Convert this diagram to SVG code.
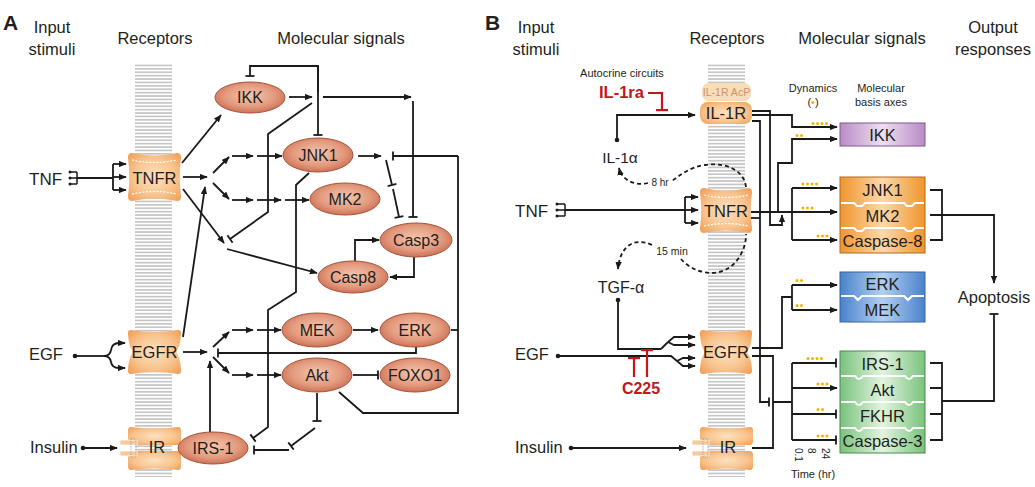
<svg xmlns="http://www.w3.org/2000/svg" width="1035" height="487" viewBox="0 0 1035 487">
<defs>
<style>
text{font-family:"Liberation Sans",Arial,Helvetica,sans-serif;fill:#231f20}
.hd{font-size:16.5px;text-anchor:middle}
.pl{font-size:21px;font-weight:bold}
.in{font-size:16.5px}
.nl{font-size:16px;text-anchor:middle}
.bx{font-size:16.5px;text-anchor:middle}
.sm{font-size:11px;text-anchor:middle}
.rl{font-size:16.5px;text-anchor:middle}
.ln{fill:none;stroke:#1a1a1a;stroke-width:1.8}
.a{marker-end:url(#ah)}
.t{marker-end:url(#tb)}
.d{marker-start:url(#dt)}
.ds{stroke-dasharray:4 3}
.red{fill:none;stroke:#c4161c;stroke-width:2.2;marker-end:url(#tr)}
.ell{fill:url(#eg);stroke:#a4553c;stroke-width:1}
.rec{fill:url(#rg)}
.wd{fill:none;stroke:#fff;stroke-width:1.2;stroke-dasharray:2 1.5}
.mem{fill:url(#mem)}
.yd{fill:#f5b300}
.sep{fill:none;stroke:#fff;stroke-width:2.2}
.gate{fill:#f8c896;stroke:#fff;stroke-width:0.8}
</style>
<pattern id="mem" width="10" height="3.4" patternUnits="userSpaceOnUse"><rect width="10" height="1.7" fill="#c6c6c6"/></pattern>
<radialGradient id="eg" cx="50%" cy="45%" r="60%"><stop offset="0" stop-color="#f5c6ae"/><stop offset="0.6" stop-color="#e39a7e"/><stop offset="1" stop-color="#c9674b"/></radialGradient>
<radialGradient id="rg" cx="50%" cy="50%" r="65%"><stop offset="0" stop-color="#fde1c0"/><stop offset="0.6" stop-color="#f8c48e"/><stop offset="1" stop-color="#f0a25c"/></radialGradient>
<linearGradient id="gp" x1="0" x2="1" y1="0" y2="0"><stop offset="0" stop-color="#b98bc6"/><stop offset="0.5" stop-color="#eddff0"/><stop offset="1" stop-color="#b98bc6"/></linearGradient>
<linearGradient id="go" x1="0" x2="1" y1="0" y2="0"><stop offset="0" stop-color="#f0952c"/><stop offset="0.5" stop-color="#fcd8aa"/><stop offset="1" stop-color="#f0952c"/></linearGradient>
<linearGradient id="gb" x1="0" x2="1" y1="0" y2="0"><stop offset="0" stop-color="#4a82cc"/><stop offset="0.5" stop-color="#b2d0f0"/><stop offset="1" stop-color="#4a82cc"/></linearGradient>
<linearGradient id="gg" x1="0" x2="1" y1="0" y2="0"><stop offset="0" stop-color="#79c27c"/><stop offset="0.5" stop-color="#e2f4df"/><stop offset="1" stop-color="#79c27c"/></linearGradient>
<marker id="ah" viewBox="0 0 10 8" refX="9" refY="4" markerWidth="8" markerHeight="6.4" orient="auto" markerUnits="userSpaceOnUse"><path d="M0,0 L10,4 L0,8 Z" fill="#1a1a1a"/></marker>
<marker id="tb" viewBox="-1.5 -5 3 10" refX="0" refY="0" markerWidth="3" markerHeight="10" orient="auto" markerUnits="userSpaceOnUse"><path d="M0,-4.5 V4.5" stroke="#1a1a1a" stroke-width="1.8"/></marker>
<marker id="tr" viewBox="-1.5 -6.5 3 13" refX="0" refY="0" markerWidth="3" markerHeight="13" orient="auto" markerUnits="userSpaceOnUse"><path d="M0,-6 V6" stroke="#c4161c" stroke-width="2.4"/></marker>
<marker id="dt" viewBox="-3 -3 6 6" refX="0" refY="0" markerWidth="6" markerHeight="6" markerUnits="userSpaceOnUse"><circle r="2.3" fill="#1a1a1a"/></marker>
</defs>
<rect width="1035" height="487" fill="#fff"/>

<!-- Headings -->
<g id="headings">
<text class="pl" x="3" y="30">A</text>
<text class="hd" x="52" y="33">Input</text>
<text class="hd" x="52" y="55">stimuli</text>
<text class="hd" x="155" y="44">Receptors</text>
<text class="hd" x="341" y="44">Molecular signals</text>
<text class="pl" x="485" y="30">B</text>
<text class="hd" x="536" y="33">Input</text>
<text class="hd" x="536" y="55">stimuli</text>
<text class="hd" x="727" y="44">Receptors</text>
<text class="hd" x="862" y="44">Molecular signals</text>
<text class="hd" x="993" y="33">Output</text>
<text class="hd" x="993" y="55">responses</text>
</g>

<!-- Membranes -->
<g id="membrane-a"><rect class="mem" x="135" y="63" width="37" height="414"/></g>
<g id="membrane-b"><rect class="mem" x="708" y="63" width="37" height="414"/></g>

<!-- Connectors -->
<g id="connectors">
<!-- Panel A inputs -->
<path class="ln" d="M77 178 H113 M113 164 V190"/>
<path class="ln a" d="M113 164 H126"/>
<path class="ln a" d="M113 177 H126"/>
<path class="ln a" d="M113 190 H126"/>
<path class="ln d" d="M75 356 H104"/>
<path class="ln a" d="M104 356 Q110 356 111 350 Q112 343 119 343 H125"/>
<path class="ln a" d="M104 356 Q110 356 111 362 Q112 368 119 368 H125"/>
<path class="ln d a" d="M83 448 H117"/>
<!-- TNFR outputs -->
<path class="ln a" d="M182 163 L221 115"/>
<path class="ln a" d="M183 177 H207"/>
<path class="ln a" d="M213 173 L229 157"/>
<path class="ln a" d="M232 156 H253"/>
<path class="ln a" d="M257 156 H282"/>
<path class="ln a" d="M213 183 L229 199"/>
<path class="ln a" d="M232 200 H253"/>
<path class="ln a" d="M257 200 H281"/>
<path class="ln a" d="M285 200 H309"/>
<path class="ln a" d="M183 189 L224 243"/>
<path class="ln a" d="M227 249 L317 273"/>
<path class="ln t" d="M312 103 L268 134 V212 L230 239"/>
<!-- EGFR outputs -->
<path class="ln a" d="M183 337 L205 187"/>
<path class="ln a" d="M183 352 H207"/>
<path class="ln a" d="M213 347 L229 332"/>
<path class="ln a" d="M232 330 H253"/>
<path class="ln a" d="M257 330 H281"/>
<path class="ln a" d="M213 357 L229 373"/>
<path class="ln a" d="M232 375 H253"/>
<path class="ln a" d="M257 375 H281"/>
<path class="ln a" d="M210 432 V361"/>
<path class="ln t" d="M416 346 V353 H218"/>
<path class="ln a" d="M353 330 H378"/>
<path class="ln t" d="M353 375 H378"/>
<path class="ln t" d="M317 393 V421"/>
<path class="ln t" d="M315 428 L291 446"/>
<path class="ln t" d="M289 450 H254"/>
<path class="ln t" d="M309 173 L296 185 V292 L268 310 V427 L253 438"/>
<!-- IKK region -->
<path class="ln a" d="M289 97 H312"/>
<path class="ln t" d="M318 92 V66 H250 V76"/>
<path class="ln t" d="M318 66 V135"/>
<path class="ln a" d="M323 97 H411"/>
<path class="ln t" d="M413 101 V217"/>
<path class="ln a" d="M358 156 H381"/>
<path class="ln t" d="M458 156 H393"/>
<path class="ln" d="M458 156 V413 H363 L339 392"/>
<path class="ln" d="M451 330 H458"/>
<path class="ln t" d="M386 160 L392 185"/>
<path class="ln t" d="M393 189 L399 217"/>
<path class="ln a" d="M355 262 V240 H379"/>
<path class="ln a" d="M414 257 V277 H390"/>

<!-- Panel B inputs -->
<path class="ln d a" d="M617 140 V115 H695"/>
<path class="red" d="M648 93 H662 V110"/>
<path class="ln ds" d="M746 187 C744 170 726 162 705 165 C690 167 680 175 672 181"/>
<path class="ln ds a" d="M648 183 C636 186 622 181 619 168"/>
<path class="ln" d="M565 210 H685 M685 197 V223"/>
<path class="ln a" d="M685 197 H698"/>
<path class="ln a" d="M685 210 H698"/>
<path class="ln a" d="M685 223 H698"/>
<path class="ln ds a" d="M652 245 C635 237 620 245 618 269"/>
<path class="ln ds" d="M681 259 C695 275 725 281 740 256 C745 247 746 241 746 234"/>
<path class="ln d" d="M618 300 V349 H661"/>
<path class="ln d" d="M558 356 H662"/>
<path class="ln" d="M661 349 L668 342"/>
<path class="ln a" d="M668 342 L674 337 H695"/>
<path class="ln a" d="M668 342 L674 345 H695"/>
<path class="ln" d="M662 356 H671 L677 361"/>
<path class="ln a" d="M677 361 L683 358 H695"/>
<path class="ln a" d="M677 361 L683 366 H695"/>
<path class="red" d="M634 377 V358"/>
<path class="red" d="M647 377 V350"/>
<path class="ln d a" d="M571 448 H686"/>
<!-- Panel B receptor outputs -->
<path class="ln a" d="M752 115 H792 V127 H837"/>
<path class="ln a" d="M752 111 H770 V225 H782 V215"/>
<path class="ln t" d="M752 121 H760 V402 H769"/>
<path class="ln a" d="M778 212 V163 H792 V139 H837"/>
<path class="ln a" d="M751 212 H837"/>
<path class="ln" d="M792 188 V240"/>
<path class="ln a" d="M792 188 H837"/>
<path class="ln a" d="M792 240 H837"/>
<path class="ln" d="M751 218 H760"/>
<path class="ln" d="M752 348 H782 V297 H792 M792 285 V310"/>
<path class="ln a" d="M792 285 H837"/>
<path class="ln a" d="M792 310 H837"/>
<path class="ln" d="M752 356 H773 V448 H752 M773 402 H792 M792 363 V440"/>
<path class="ln t" d="M792 363 H836"/>
<path class="ln a" d="M792 388 H837"/>
<path class="ln t" d="M792 414 H836"/>
<path class="ln t" d="M792 440 H836"/>
<!-- Outputs -->
<path class="ln" d="M930 190 H942 V240 H930"/>
<path class="ln a" d="M930 215 H994 V283"/>
<path class="ln" d="M930 363 H942 V440 H930 M930 388 H942 M930 414 H942"/>
<path class="ln t" d="M942 401 H994 V314"/>
</g>

<!-- Panel A input labels -->
<g id="tnf-a">
<text class="in" x="29" y="185" style="font-size:17px">TNF</text>
<path class="ln" style="stroke-width:1.5" d="M70 172 H77 M70 178 H77 M70 184 H77 M77 172 V184"/>
<circle cx="70" cy="172" r="1.5" fill="#1a1a1a"/><circle cx="70" cy="178" r="1.5" fill="#1a1a1a"/><circle cx="70" cy="184" r="1.5" fill="#1a1a1a"/>
</g>
<g id="egf-a"><text class="in" x="29" y="360">EGF</text></g>
<g id="insulin-a"><text class="in" x="30" y="453">Insulin</text></g>

<!-- Panel A receptors -->
<g id="tnfr-a">
<path class="rec" d="M132 153 Q154.5 158 177 153 Q181.5 153 181 158 Q178.5 177 181 196 Q181.5 201 177 201 Q154.5 196 132 201 Q127.5 201 128 196 Q130.5 177 128 158 Q127.5 153 132 153 Z"/>
<path class="wd" d="M132 160 Q154.5 165 177 160 M132 194 Q154.5 189 177 194"/>
<text class="rl" x="154.5" y="184">TNFR</text>
</g>
<g id="egfr-a">
<path class="rec" d="M131 330 Q154.5 334 178 330 Q182 330 181 335 Q180 347 177 350 Q176 352 177 354 Q180 357 181 369 Q182 374 178 374 Q154.5 370 131 374 Q127 374 128 369 Q129 357 132 354 Q133 352 132 350 Q129 347 128 335 Q127 330 131 330 Z"/>
<text class="rl" x="154.5" y="358">EGFR</text>
</g>
<g id="ir-a">
<path class="rec" d="M131 427 Q154.5 430 178 427 Q181.5 427 181 432 L181 441 Q181 445 177 445 L132 445 Q128 445 128 441 L128 432 Q127.5 427 131 427 Z"/>
<path class="rec" d="M132 451 L177 451 Q181 451 181 455 L181 465 Q181.5 470 178 470 Q154.5 467 131 470 Q127.5 470 128 465 L128 455 Q128 451 132 451 Z"/>
<rect class="gate" x="120" y="440" width="17" height="5"/>
<rect class="gate" x="120" y="451" width="17" height="5"/>
<rect x="131" y="439" width="5" height="18" fill="none" stroke="#9a9a9a" stroke-width="0.8" stroke-dasharray="1.5 1"/>
<text class="rl" x="157" y="453">IR</text>
</g>

<!-- Panel A molecular signals -->
<g id="ikk-a"><ellipse class="ell" cx="250" cy="97.5" rx="35" ry="15.5"/><text class="nl" x="250" y="103">IKK</text></g>
<g id="jnk1-a"><ellipse class="ell" cx="318" cy="155" rx="35" ry="17"/><text class="nl" x="318" y="161">JNK1</text></g>
<g id="mk2-a"><ellipse class="ell" cx="345" cy="199" rx="35" ry="16"/><text class="nl" x="345" y="205">MK2</text></g>
<g id="casp3-a"><ellipse class="ell" cx="416" cy="240" rx="36" ry="17"/><text class="nl" x="416" y="246">Casp3</text></g>
<g id="casp8-a"><ellipse class="ell" cx="353" cy="277" rx="35" ry="16"/><text class="nl" x="353" y="283">Casp8</text></g>
<g id="mek-a"><ellipse class="ell" cx="317" cy="330" rx="35" ry="17"/><text class="nl" x="317" y="336">MEK</text></g>
<g id="erk-a"><ellipse class="ell" cx="415" cy="330" rx="35" ry="17"/><text class="nl" x="415" y="336">ERK</text></g>
<g id="akt-a"><ellipse class="ell" cx="317" cy="375" rx="35" ry="17"/><text class="nl" x="317" y="381">Akt</text></g>
<g id="foxo1-a"><ellipse class="ell" cx="415" cy="375" rx="35" ry="17"/><text class="nl" x="415" y="381">FOXO1</text></g>
<g id="irs1-a"><ellipse class="ell" cx="213" cy="448" rx="35" ry="16"/><text class="nl" x="213" y="454">IRS-1</text></g>

<!-- Panel B inputs -->
<g id="autocrine"><text class="sm" x="622" y="77">Autocrine circuits</text></g>
<g id="il1ra"><text x="599" y="98" style="font-size:16.5px;font-weight:bold;fill:#c4161c">IL-1ra</text></g>
<g id="il1a"><text x="620" y="163" style="font-size:15.5px;text-anchor:middle">IL-1α</text></g>
<g id="lbl-8hr"><text x="660" y="186" style="font-size:10px;text-anchor:middle">8 hr</text></g>
<g id="tnf-b">
<text class="in" x="515" y="217" style="font-size:17px">TNF</text>
<path class="ln" style="stroke-width:1.5" d="M557 204 H565 M557 210 H565 M557 216 H565 M565 204 V216"/>
<circle cx="557" cy="204" r="1.5" fill="#1a1a1a"/><circle cx="557" cy="210" r="1.5" fill="#1a1a1a"/><circle cx="557" cy="216" r="1.5" fill="#1a1a1a"/>
</g>
<g id="lbl-15min"><text x="672" y="255" style="font-size:10.5px;text-anchor:middle">15 min</text></g>
<g id="tgfa"><text x="621" y="293" style="font-size:16px;text-anchor:middle">TGF-α</text></g>
<g id="egf-b"><text class="in" x="515" y="360">EGF</text></g>
<g id="c225"><text x="641" y="394" style="font-size:16px;font-weight:bold;fill:#c4161c;text-anchor:middle">C225</text></g>
<g id="insulin-b"><text class="in" x="515" y="453">Insulin</text></g>

<!-- Panel B receptors -->
<g id="il1r-b">
<rect x="702" y="83" width="49" height="18" rx="7" fill="#f9dcb8"/>
<text x="726.5" y="96" style="font-size:10.5px;text-anchor:middle;fill:#c8946a">IL-1R AcP</text>
<rect class="rec" x="700" y="102" width="52" height="22" rx="8"/>
<text class="rl" x="726" y="119">IL-1R</text>
</g>
<g id="tnfr-b">
<path class="rec" d="M704 188 Q726 193 748 188 Q752.5 188 752 193 Q749.5 210.5 752 228 Q752.5 233 748 233 Q726 228 704 233 Q699.5 233 700 228 Q702.5 210.5 700 193 Q699.5 188 704 188 Z"/>
<path class="wd" d="M704 195 Q726 200 748 195 M704 226 Q726 221 748 226"/>
<text class="rl" x="726" y="217">TNFR</text>
</g>
<g id="egfr-b">
<path class="rec" d="M703 330 Q726 334 749 330 Q753 330 752 335 Q751 347 748 350 Q747 352 748 354 Q751 357 752 369 Q753 374 749 374 Q726 370 703 374 Q699 374 700 369 Q701 357 704 354 Q705 352 704 350 Q701 347 700 335 Q699 330 703 330 Z"/>
<text class="rl" x="726" y="358">EGFR</text>
</g>
<g id="ir-b">
<path class="rec" d="M703 427 Q726.5 430 750 427 Q753.5 427 753 432 L753 441 Q753 445 749 445 L704 445 Q700 445 700 441 L700 432 Q699.5 427 703 427 Z"/>
<path class="rec" d="M704 451 L749 451 Q753 451 753 455 L753 465 Q753.5 470 750 470 Q726.5 467 703 470 Q699.5 470 700 465 L700 455 Q700 451 704 451 Z"/>
<rect class="gate" x="692" y="440" width="17" height="5"/>
<rect class="gate" x="692" y="451" width="17" height="5"/>
<rect x="703" y="439" width="5" height="18" fill="none" stroke="#9a9a9a" stroke-width="0.8" stroke-dasharray="1.5 1"/>
<text class="rl" x="728" y="453">IR</text>
</g>

<!-- Panel B column labels -->
<g id="dynamics-label">
<text class="sm" x="813" y="92">Dynamics</text>
<text class="sm" x="813" y="106">(<tspan fill="#f5b300">•</tspan>)</text>
</g>
<g id="basis-label">
<text class="sm" x="881" y="92">Molecular</text>
<text class="sm" x="881" y="106">basis axes</text>
</g>

<!-- Dynamics dots -->
<g id="dyn-dots" class="yd">
<circle cx="813" cy="123.5" r="1.5"/><circle cx="817.5" cy="123.5" r="1.5"/><circle cx="822" cy="123.5" r="1.5"/><circle cx="826.5" cy="123.5" r="1.5"/>
<circle cx="797" cy="135.5" r="1.5"/><circle cx="801.5" cy="135.5" r="1.5"/>
<circle cx="803" cy="184" r="1.5"/><circle cx="807.5" cy="184" r="1.5"/><circle cx="812" cy="184" r="1.5"/><circle cx="816.5" cy="184" r="1.5"/>
<circle cx="803" cy="208" r="1.5"/><circle cx="807.5" cy="208" r="1.5"/><circle cx="812" cy="208" r="1.5"/>
<circle cx="818" cy="236" r="1.5"/><circle cx="822.5" cy="236" r="1.5"/><circle cx="827" cy="236" r="1.5"/>
<circle cx="797" cy="280.5" r="1.5"/><circle cx="801.5" cy="280.5" r="1.5"/>
<circle cx="797" cy="305.5" r="1.5"/><circle cx="801.5" cy="305.5" r="1.5"/>
<circle cx="808" cy="358.5" r="1.5"/><circle cx="812.5" cy="358.5" r="1.5"/><circle cx="817" cy="358.5" r="1.5"/><circle cx="821.5" cy="358.5" r="1.5"/>
<circle cx="818" cy="384" r="1.5"/><circle cx="822.5" cy="384" r="1.5"/><circle cx="827" cy="384" r="1.5"/>
<circle cx="818" cy="409.5" r="1.5"/><circle cx="822.5" cy="409.5" r="1.5"/>
<circle cx="818" cy="436" r="1.5"/><circle cx="822.5" cy="436" r="1.5"/><circle cx="827" cy="436" r="1.5"/>
</g>

<!-- Panel B boxes -->
<g id="ikk-b">
<rect x="840" y="123" width="85" height="23" fill="url(#gp)" stroke="#7e5a8c" stroke-width="1"/>
<text class="bx" x="882.5" y="140.5">IKK</text>
</g>
<g id="orange-group">
<rect x="840" y="177" width="85" height="76" fill="url(#go)" stroke="#b06a20" stroke-width="1"/>
<path class="sep" d="M841 203 H854 l3 3 h5 l3 -3 H904 l3 3 h5 l3 -3 H924 M841 228 H854 l3 3 h5 l3 -3 H904 l3 3 h5 l3 -3 H924"/>
<text class="bx" x="882.5" y="196">JNK1</text>
<text class="bx" x="882.5" y="221.5">MK2</text>
<text class="bx" x="882.5" y="247">Caspase-8</text>
</g>
<g id="blue-group">
<rect x="840" y="272" width="85" height="50" fill="url(#gb)" stroke="#3a64a0" stroke-width="1"/>
<path class="sep" d="M841 296 H854 l4 4 l4 -4 H904 l4 4 l4 -4 H924"/>
<text class="bx" x="882.5" y="290">ERK</text>
<text class="bx" x="882.5" y="316">MEK</text>
</g>
<g id="green-group">
<rect x="840" y="351" width="85" height="102" fill="url(#gg)" stroke="#4a8a4e" stroke-width="1"/>
<path class="sep" d="M841 376 H855 q4 6 8 0 H905 q4 6 8 0 H924 M841 402 H855 q4 6 8 0 H905 q4 6 8 0 H924 M841 428 H855 q4 6 8 0 H905 q4 6 8 0 H924"/>
<text class="bx" x="882.5" y="370">IRS-1</text>
<text class="bx" x="882.5" y="395.5">Akt</text>
<text class="bx" x="882.5" y="421.5">FKHR</text>
<text class="bx" x="882.5" y="447">Caspase-3</text>
</g>

<!-- Time axis -->
<g id="time-axis" style="font-size:10px">
<text transform="translate(795,448) rotate(90)">0.1</text>
<text transform="translate(808,448) rotate(90)">8</text>
<text transform="translate(822,448) rotate(90)">24</text>
<text x="813" y="478" style="text-anchor:middle;font-size:11px">Time (hr)</text>
</g>

<!-- Output -->
<g id="apoptosis"><text class="hd" x="994" y="303">Apoptosis</text></g>
</svg>
